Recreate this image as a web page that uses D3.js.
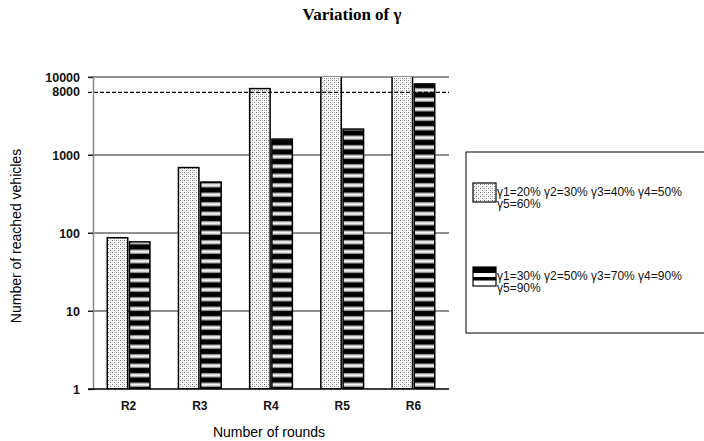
<!DOCTYPE html>
<html>
<head>
<meta charset="utf-8">
<script src="https://cdn.jsdelivr.net/npm/d3@7"></script>
<style>
  body { margin: 0; background: #fff; }
  svg { display: block; }
</style>
</head>
<body>
<div id="chart"></div>
<script>
// data
const rounds = ["R2", "R3", "R4", "R5", "R6"];
const seriesNames = ["γ1=20% γ2=30% γ3=40% γ4=50% γ5=60%", "γ1=30% γ2=50% γ3=70% γ4=90% γ5=90%"];
const lowGamma = [87, 690, 7100, 14000, 14000];
const highGamma = [77, 450, 1600, 2150, 8150];
const yTicks = [1, 10, 100, 1000, 10000];
const thresholdValue = 6350;
const thresholdLabel = "8000";

const width = 704, height = 441;
const margin = {top: 77, right: 255, bottom: 52, left: 93};
const innerW = 449 - margin.left, innerH = 389 - margin.top;

const svg = d3.select("#chart").append("svg")
    .attr("width", width)
    .attr("height", height);

// fill patterns
const defs = svg.append("defs");
let dots = defs.append("pattern")
    .attr("id", "dots").attr("patternUnits", "userSpaceOnUse")
    .attr("width", 4).attr("height", 4);
dots.append("rect").attr("width", 4).attr("height", 4).attr("fill", "#fff");
dots.append("rect").attr("x", 0).attr("y", 0).attr("width", 1).attr("height", 1).attr("fill", "#777");
dots.append("rect").attr("x", 2).attr("y", 2).attr("width", 1).attr("height", 1).attr("fill", "#777");
dots.append("rect").attr("x", 2).attr("y", 0).attr("width", 1).attr("height", 1).attr("fill", "#ccc");
dots.append("rect").attr("x", 0).attr("y", 2).attr("width", 1).attr("height", 1).attr("fill", "#ccc");

let stripes = defs.append("pattern")
    .attr("id", "stripes").attr("patternUnits", "userSpaceOnUse")
    .attr("width", 8).attr("height", 9.5).attr("y", 389);
stripes.append("rect").attr("width", 8).attr("height", 9.5).attr("fill", "#000");
stripes.append("rect").attr("y", 3).attr("width", 8).attr("height", 1).attr("fill", "#999");
stripes.append("rect").attr("y", 4).attr("width", 8).attr("height", 2.5).attr("fill", "#fff");
stripes.append("rect").attr("y", 6.5).attr("width", 8).attr("height", 1).attr("fill", "#999");

defs.append("clipPath").attr("id", "plotClip")
    .append("rect").attr("x", margin.left - 10).attr("y", margin.top)
    .attr("width", innerW + 20).attr("height", innerH);

let x = d3.scaleBand()
    .domain(rounds)
    .range([margin.left, margin.left + innerW])
    .paddingInner(0.4)
    .paddingOuter(0.2);

let xs = d3.scaleBand()
    .domain([0, 1])
    .range([0, x.bandwidth()])
    .paddingInner(0.08);

let y = d3.scaleLog()
    .domain([1, 10000])
    .range([margin.top + innerH, margin.top]);

// title
svg.append("text")
    .attr("x", 352).attr("y", 20)
    .attr("text-anchor", "middle")
    .style("font-family", "'Liberation Serif', 'Times New Roman', serif")
    .style("font-weight", "bold")
    .style("font-size", "17px")
    .text("Variation of γ");

// gridlines
svg.append("g")
    .selectAll("line")
    .data(yTicks.slice(1))
    .enter()
    .append("line")
    .attr("x1", margin.left - 5).attr("x2", margin.left + innerW)
    .attr("y1", d => y(d)).attr("y2", d => y(d))
    .attr("stroke", "#222").attr("stroke-width", 1);

// bars
const series = [lowGamma, highGamma];
const fills = ["url(#dots)", "url(#stripes)"];
let barsG = svg.append("g").attr("clip-path", "url(#plotClip)");
series.forEach(function(vals, i) {
    barsG.selectAll(".bar" + i)
        .data(vals)
        .enter()
        .append("rect")
        .attr("class", "bar" + i)
        .attr("x", (d, j) => x(rounds[j]) + xs(i))
        .attr("y", d => y(d))
        .attr("width", xs.bandwidth())
        .attr("height", d => y(1) - y(d))
        .attr("fill", fills[i])
        .attr("stroke", "#000")
        .attr("stroke-width", 1.5);
});

// threshold dashed line
svg.append("line")
    .attr("x1", margin.left - 5).attr("x2", margin.left + innerW)
    .attr("y1", y(thresholdValue)).attr("y2", y(thresholdValue))
    .attr("stroke", "#000")
    .attr("stroke-width", 1.3)
    .attr("stroke-dasharray", "4,2");

// y axis
let yAxis = svg.append("g")
    .attr("transform", `translate(${margin.left},0)`)
    .call(d3.axisLeft(y).tickValues(yTicks).tickFormat(d3.format("d")).tickSize(5).tickPadding(8));
yAxis.select(".domain").attr("stroke", "#888").attr("stroke-width", 1.5);
yAxis.selectAll(".tick line").attr("stroke", "#222");
yAxis.selectAll("text")
    .style("font-family", "'Liberation Sans', Arial, sans-serif")
    .style("font-size", "12.5px")
    .style("font-weight", "bold")
    .attr("fill", "#111");

svg.append("text")
    .attr("x", margin.left - 13).attr("y", y(thresholdValue) + 4)
    .attr("text-anchor", "end")
    .style("font-family", "'Liberation Sans', Arial, sans-serif")
    .style("font-size", "12.5px")
    .style("font-weight", "bold")
    .attr("fill", "#111")
    .text(thresholdLabel);

// x axis
let xAxis = svg.append("g")
    .attr("transform", `translate(0,${margin.top + innerH})`)
    .call(d3.axisBottom(x).tickSize(0).tickPadding(12));
xAxis.select(".domain").attr("stroke", "#000").attr("stroke-width", 1.3)
    .attr("d", `M${margin.left - 5},0H${margin.left + innerW}`);
xAxis.selectAll("text")
    .style("font-family", "'Liberation Sans', Arial, sans-serif")
    .style("font-size", "12px")
    .style("font-weight", "bold")
    .attr("fill", "#111");

// axis titles
svg.append("text")
    .attr("x", 269).attr("y", 437)
    .attr("text-anchor", "middle")
    .style("font-family", "'Liberation Sans', Arial, sans-serif")
    .style("font-size", "14px")
    .text("Number of rounds");

svg.append("text")
    .attr("transform", "translate(21,236) rotate(-90)")
    .attr("text-anchor", "middle")
    .style("font-family", "'Liberation Sans', Arial, sans-serif")
    .style("font-size", "14px")
    .text("Number of reached vehicles");

// legend
let legend = svg.append("g");
legend.append("rect")
    .attr("x", 466).attr("y", 152)
    .attr("width", 250).attr("height", 181)
    .attr("fill", "#fff").attr("stroke", "#000").attr("stroke-width", 1);

const legendY = [183, 267];
seriesNames.forEach(function(name, i) {
    legend.append("rect")
        .attr("x", 473).attr("y", legendY[i])
        .attr("width", 23).attr("height", 19)
        .attr("fill", i === 0 ? "url(#dots)" : "none")
        .attr("stroke", "#000").attr("stroke-width", 1.2);
    if (i === 1) {
        legend.append("rect").attr("x", 473).attr("y", legendY[i]).attr("width", 23).attr("height", 6).attr("fill", "#000");
        legend.append("rect").attr("x", 473).attr("y", legendY[i] + 10).attr("width", 23).attr("height", 3.5).attr("fill", "#000");
    }
    let words = name.split(" ");
    let t = legend.append("text")
        .attr("x", 497).attr("y", legendY[i] + 13)
        .style("font-family", "'Liberation Sans', Arial, sans-serif")
        .style("font-size", "12px")
        .attr("fill", "#111");
    t.append("tspan").attr("x", 497).text(words.slice(0, 4).join(" "));
    t.append("tspan").attr("x", 497).attr("dy", 12).text(words.slice(4).join(" "));
});
</script>
</body>
</html>
